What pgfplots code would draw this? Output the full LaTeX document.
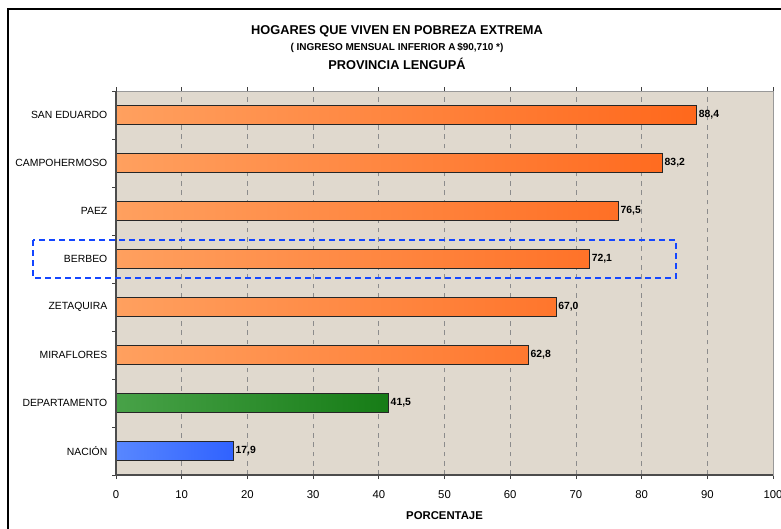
\documentclass[border=0pt]{standalone}
\usepackage{pgfplots}
\pgfplotsset{compat=1.18}
\usepackage{fontspec}
\setmainfont{Liberation Sans}
\definecolor{bgc}{RGB}{224,217,206}
\definecolor{orA}{RGB}{255,160,95}
\definecolor{orB}{RGB}{255,104,28}
\definecolor{grA}{RGB}{72,162,72}
\definecolor{grB}{RGB}{22,124,22}
\definecolor{blA}{RGB}{88,135,255}
\definecolor{blB}{RGB}{48,98,255}
\definecolor{hlblue}{RGB}{20,70,255}
\begin{document}
\begin{tikzpicture}
\useasboundingbox (0,0) rectangle (585.75pt,-396pt);
\begin{scope}
\clip (0,0) rectangle (585.75pt,-396pt);
\draw[line width=0.9pt] (6pt,-6.75pt) rectangle (640pt,-440pt);
\end{scope}
\node[font=\bfseries\fontsize{9.6}{11}\selectfont] at (297.75pt,-23.25pt) {HOGARES QUE VIVEN EN POBREZA EXTREMA};
\node[font=\bfseries\fontsize{7.5}{9}\selectfont] at (297.75pt,-36pt) {( INGRESO MENSUAL INFERIOR A\,\$90,710 *)};
\node[font=\bfseries\fontsize{9.6}{11}\selectfont] at (297.75pt,-48pt) {PROVINCIA LENGUPÁ};
\begin{axis}[
  at={(87pt,-356.25pt)}, anchor=south west,
  scale only axis, width=492.75pt, height=288pt,
  xmin=0, xmax=100, ymin=-0.5, ymax=7.5,
  xtick={0,10,...,100},
  ytick={0,...,7},
  yticklabels={NACIÓN,DEPARTAMENTO,MIRAFLORES,ZETAQUIRA,BERBEO,PAEZ,CAMPOHERMOSO,SAN EDUARDO},
  y tick label style={font=\fontsize{7.8}{9}\selectfont},
  x tick label style={font=\fontsize{8.5}{10}\selectfont, yshift=-5.5pt},
  /pgf/number format/assume math mode=true,
  tick align=outside,
  major tick length=3pt,
  xtick style={black!75, line width=0.6pt},
  ytick style={draw=none},
  axis background/.style={fill=bgc},
  xmajorgrids,
  major grid style={black!45, dash pattern=on 3.5pt off 3.5pt, line width=0.5pt},
  axis line style={black!40, line width=0.6pt},
  clip=false,
  point meta=x,
  nodes near coords={\pgfmathprintnumber[fixed,fixed zerofill,precision=1,use comma]{\pgfplotspointmeta}},
  nodes near coords style={font=\bfseries\fontsize{7.8}{9}\selectfont, anchor=west, inner sep=1.2pt, black},
]
\addplot[xbar, bar width=14.5pt, bar shift=0pt, draw=black!85, line width=0.7pt, left color=orA, right color=orB]
  coordinates {(62.8,2) (67.0,3) (72.1,4) (76.5,5) (83.2,6) (88.4,7)};
\addplot[xbar, bar width=14.5pt, bar shift=0pt, draw=black!85, line width=0.7pt, left color=grA, right color=grB]
  coordinates {(41.5,1)};
\addplot[xbar, bar width=14.5pt, bar shift=0pt, draw=black!85, line width=0.7pt, left color=blA, right color=blB]
  coordinates {(17.9,0)};
\pgfplotsinvokeforeach{-0.5,0.5,1.5,2.5,3.5,4.5,5.5,6.5,7.5}{
  \draw[black!75, line width=0.6pt] (axis cs:0,#1) -- ([xshift=-3pt]axis cs:0,#1);
}
\draw[black!70, line width=1pt] (rel axis cs:0,1) -- (rel axis cs:0,0) -- (rel axis cs:1,0);
\end{axis}
\draw[hlblue, line width=1.4pt, dash pattern=on 4.5pt off 3pt] (24.75pt,-180pt) rectangle (507pt,-208.5pt);
\node[font=\bfseries\fontsize{8.5}{10}\selectfont] at (333.4pt,-387pt) {PORCENTAJE};
\end{tikzpicture}
\end{document}
